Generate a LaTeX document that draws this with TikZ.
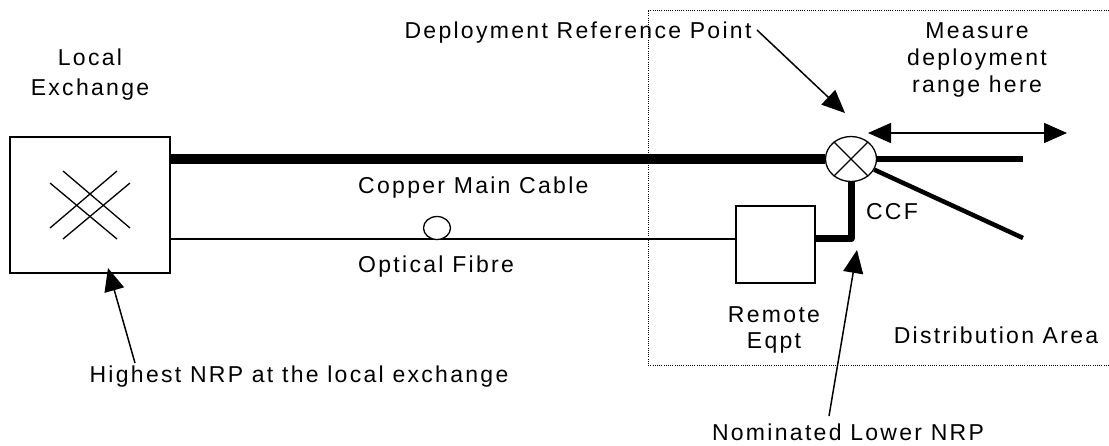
\documentclass[tikz,border=0pt]{standalone}
\usepackage{fontspec}
\setmainfont[LetterSpace=10]{Liberation Sans}
\usetikzlibrary{arrows.meta,shapes.geometric}

\begin{document}
\begin{tikzpicture}[x=1pt, y=-1pt,
    lbl/.style={font=\fontsize{23}{27}\selectfont, inner sep=0pt, align=center},
    unit/.style={draw, line width=1.3pt, fill=white, inner sep=0pt},
    cable/.style={line width=#1, line join=round},
    pointer/.style={line width=1.5pt, -{Triangle[length=23pt,width=20pt]}},
  ]
  \useasboundingbox (0,0) rectangle (1109,445);
  % distribution area, open to the right
  \draw[line width=1pt, dash pattern=on 1pt off 1.2pt] (1109,10) -| (648,365) -- (1109,365);

  \node[unit, minimum width=160pt, minimum height=136pt] (lex) at (90,205) {};
  \foreach \p/\q in {{-27,-34}/{40,23}, {-40,-22}/{27,34}, {-40,23}/{27,-34}, {-27,34}/{40,-22}}
    \draw[line width=1.3pt] ([shift={(\p)}]lex.center) -- ([shift={(\q)}]lex.center);
  \node[unit, minimum width=79pt, minimum height=77pt] (rem) at (775.5,244.5) {};
  \node[unit, ellipse, minimum width=51pt, minimum height=45pt] (ccf) at (851,159) {};
  \draw[line width=1.3pt] (ccf.45) -- (ccf.225) (ccf.135) -- (ccf.-45);

  % cables
  \coordinate (fibY) at (0,239);
  \coordinate (tailY) at (0,238.5);
  \coordinate (dropA) at (1023,159);
  \coordinate (dropB) at (1023,238);
  \draw[cable=10.5pt] (lex.east |- ccf) -- (ccf.west);
  \draw[line width=1.3pt] (lex.east |- fibY) -- (rem.west |- fibY);
  \node[unit, ellipse, minimum width=27pt, minimum height=23pt] (fib) at (437,228) {};
  \draw[cable=7pt] (rem.east |- tailY) -| (ccf.south);
  \draw[cable=6pt] (ccf.east) -- (dropA);
  \draw[cable=4.5pt] (ccf) -- (dropB);

  % labels
  \node[lbl] (lexlbl) at (90,75) {Local\\[3pt]Exchange};
  \node[lbl] (drp) at (578,33) {Deployment Reference Point};
  \node[lbl] (meas) at (977,60) {Measure\\deployment\\range here};
  \node[lbl] (ccflbl) at (892,212) {CCF};
  \node[lbl, anchor=west] (culbl) at (358,188) {Copper Main Cable};
  \node[lbl, anchor=west] (fiblbl) at (358,267) {Optical Fibre};
  \node[lbl] (remlbl) at (774,330) {Remote\\[-1pt]Eqpt};
  \node[lbl] (dist) at (996,335) {Distribution Area};
  \node[lbl] (hinrp) at (299,377) {Highest NRP at the local exchange};
  \node[lbl] (lonrp) at (848,432) {Nominated Lower NRP};

  % pointers
  \coordinate (drpTail) at (757,30);
  \coordinate (drpTip) at (845,113);
  \coordinate (hiTail) at (135,363);
  \coordinate (hiTip) at (108,268);
  \coordinate (loTail) at (829,416);
  \coordinate (loTip) at (857,250);
  \coordinate (rngL) at (868,133);
  \coordinate (rngR) at (1067,133);
  \draw[pointer] (drpTail) -- (drpTip);
  \draw[pointer] (hiTail) -- (hiTip);
  \draw[pointer] (loTail) -- (loTip);
  \draw[line width=1.5pt, {Triangle[length=23pt,width=20pt]}-{Triangle[length=23pt,width=20pt]}] (rngL) -- (rngR);
\end{tikzpicture}
\end{document}
